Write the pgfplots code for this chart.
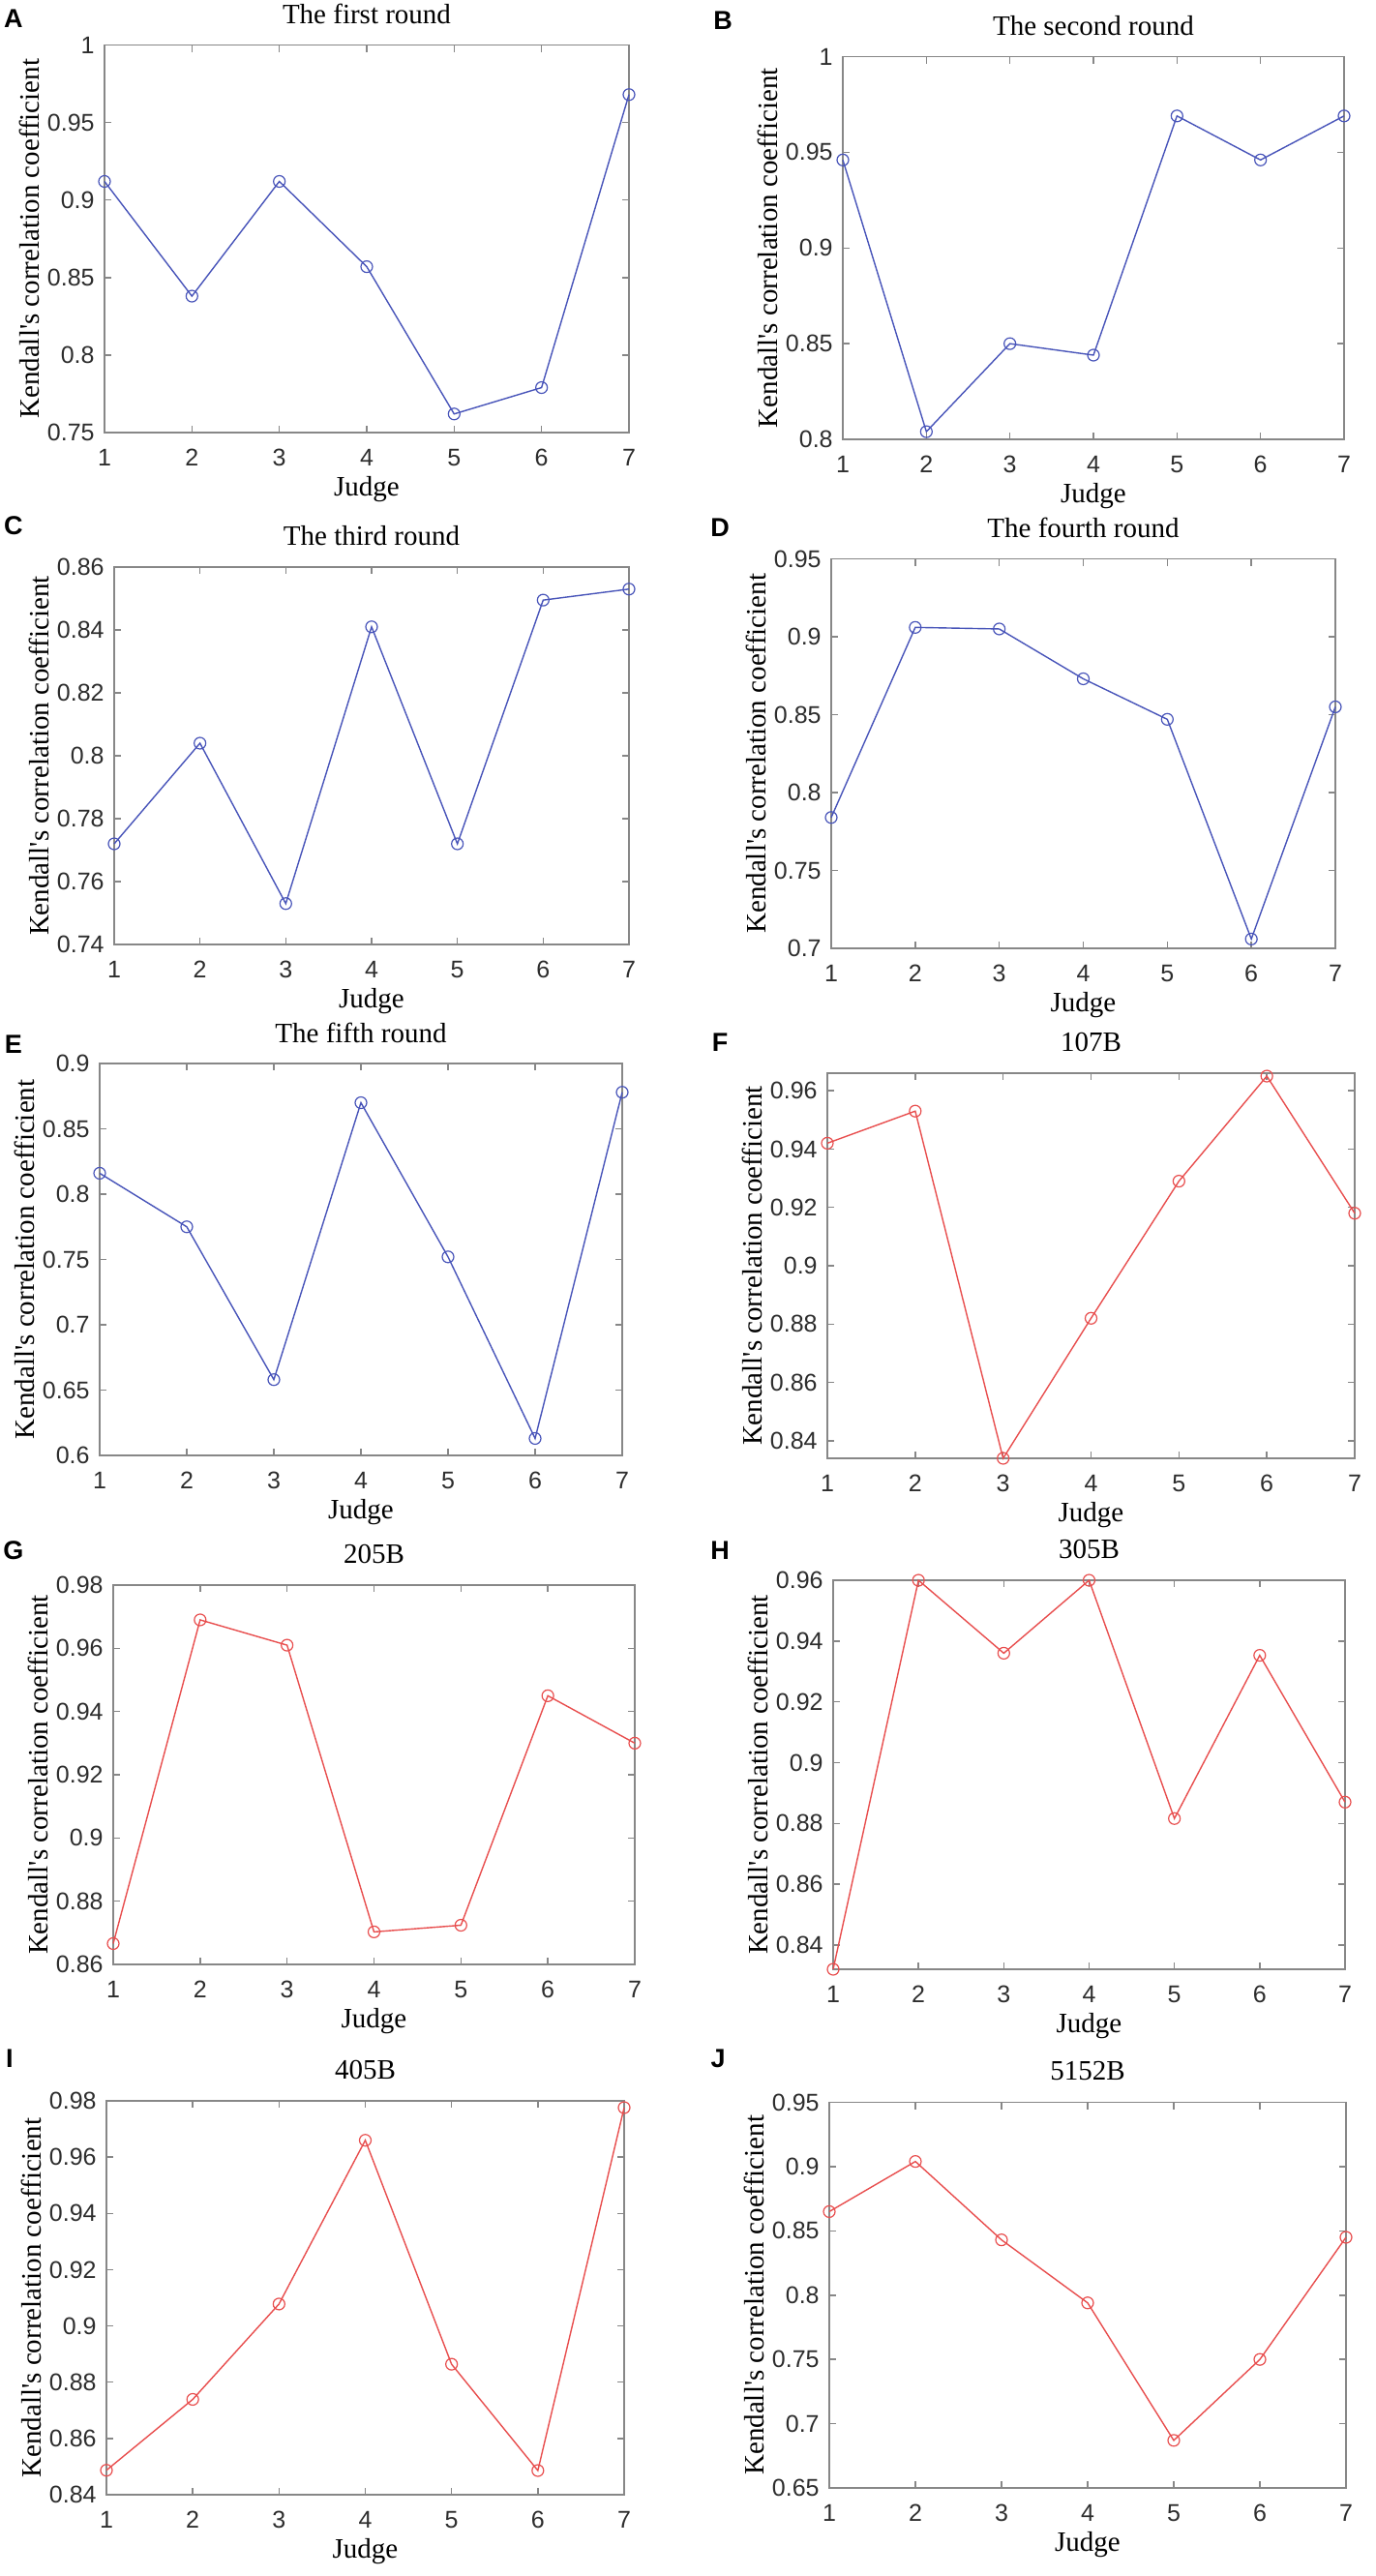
\documentclass[border=0pt]{standalone}
\usepackage{fontspec}
\setmainfont{Liberation Serif}
\newfontfamily\sansf{Liberation Sans}
\usepackage{pgfplots}
\pgfplotsset{compat=1.18}
\usetikzlibrary{calc}
\definecolor{mblue}{RGB}{72,84,185}
\definecolor{mred}{RGB}{232,78,78}
\definecolor{axgray}{RGB}{135,135,135}
\definecolor{tickgray}{RGB}{45,45,45}
\newcommand{\lblfont}{\fontsize{14.5}{16}\selectfont}
\newcommand{\tkfont}{\sansf\fontsize{12.5}{14}\selectfont}
\newcommand{\letfont}{\sansf\bfseries\fontsize{13.5}{15}\selectfont}
\pgfplotsset{
 kstyle/.style={
  scale only axis, anchor=north west, clip=false,
  xmin=1, xmax=7, xtick={1,2,3,4,5,6,7},
  tick pos=both, tick align=inside, major tick length=3.5pt,
  axis line style={axgray, line width=0.75pt},
  every tick/.style={axgray, line width=0.75pt},
  /pgf/number format/assume math mode=true,
  tick label style={font=\tkfont, text=tickgray},
  xticklabel style={anchor=center, yshift=-13pt},
  yticklabel style={anchor=east, inner sep=0pt, xshift=-5pt, /pgf/number format/fixed, /pgf/number format/precision=2},
  title style={font=\lblfont, at={(axis description cs:0.5,1)}, anchor=center, yshift=10pt},
  xlabel={Judge}, ylabel={Kendall\textquotesingle s correlation coefficient},
  xlabel style={font=\lblfont, at={(axis description cs:0.5,0)}, anchor=center, yshift=-29.5pt},
  ylabel style={font=\lblfont, at={($(axis description cs:0,0.5)+(-39pt,0)$)}, anchor=center},
 },
 bl/.style={color=mblue, line width=0.7pt, mark=o, mark size=3pt, mark options={line width=0.6pt}},
 rd/.style={color=mred, line width=0.7pt, mark=o, mark size=3pt, mark options={line width=0.6pt}},
}
\begin{document}
\begin{tikzpicture}
\path[use as bounding box] (0,0) rectangle (710.5pt,-1331pt);
% A
\begin{axis}[kstyle, at={(54pt,-23.25pt)}, width=271pt, height=200.25pt,
  ymin=0.75, ymax=1, ytick={0.75,0.8,0.85,0.9,0.95,1}, title={The first round}]
\addplot[bl] coordinates {(1,0.912) (2,0.838) (3,0.912) (4,0.857) (5,0.762) (6,0.779) (7,0.968)};
\end{axis}
% B
\begin{axis}[kstyle, at={(435.5pt,-29.25pt)}, width=259pt, height=197.75pt,
  ymin=0.8, ymax=1, ytick={0.8,0.85,0.9,0.95,1}, title={The second round}]
\addplot[bl] coordinates {(1,0.946) (2,0.804) (3,0.850) (4,0.844) (5,0.969) (6,0.946) (7,0.969)};
\end{axis}
% C
\begin{axis}[kstyle, at={(59pt,-293pt)}, width=266pt, height=195pt,
  ymin=0.74, ymax=0.86, ytick={0.74,0.76,0.78,0.8,0.82,0.84,0.86}, title={The third round}]
\addplot[bl] coordinates {(1,0.772) (2,0.804) (3,0.753) (4,0.841) (5,0.772) (6,0.8495) (7,0.853)};
\end{axis}
% D
\begin{axis}[kstyle, at={(429.5pt,-288.75pt)}, width=260.5pt, height=201.25pt,
  ymin=0.7, ymax=0.95, ytick={0.7,0.75,0.8,0.85,0.9,0.95}, title={The fourth round}]
\addplot[bl] coordinates {(1,0.784) (2,0.906) (3,0.905) (4,0.873) (5,0.847) (6,0.706) (7,0.855)};
\end{axis}
% E
\begin{axis}[kstyle, at={(51.5pt,-549.5pt)}, width=270pt, height=202.5pt,
  ymin=0.6, ymax=0.9, ytick={0.6,0.65,0.7,0.75,0.8,0.85,0.9}, title={The fifth round}]
\addplot[bl] coordinates {(1,0.816) (2,0.775) (3,0.658) (4,0.870) (5,0.752) (6,0.613) (7,0.878)};
\end{axis}
% F
\begin{axis}[kstyle, at={(427.5pt,-554.5pt)}, width=272.5pt, height=199pt,
  ymin=0.834, ymax=0.966, ytick={0.84,0.86,0.88,0.9,0.92,0.94,0.96}, title={107B}]
\addplot[rd] coordinates {(1,0.942) (2,0.953) (3,0.834) (4,0.882) (5,0.929) (6,0.965) (7,0.918)};
\end{axis}
% G
\begin{axis}[kstyle, at={(58.5pt,-819pt)}, width=269.5pt, height=196pt,
  ymin=0.86, ymax=0.98, ytick={0.86,0.88,0.9,0.92,0.94,0.96,0.98}, title={205B}]
\addplot[rd] coordinates {(1,0.8666) (2,0.969) (3,0.961) (4,0.8703) (5,0.8724) (6,0.945) (7,0.930)};
\end{axis}
% H
\begin{axis}[kstyle, at={(430.5pt,-816.5pt)}, width=264.5pt, height=201pt,
  ymin=0.832, ymax=0.96, ytick={0.84,0.86,0.88,0.9,0.92,0.94,0.96}, title={305B}]
\addplot[rd] coordinates {(1,0.832) (2,0.960) (3,0.936) (4,0.960) (5,0.8816) (6,0.9353) (7,0.887)};
\end{axis}
% I
\begin{axis}[kstyle, at={(55pt,-1085.5pt)}, width=267.5pt, height=203.5pt,
  ymin=0.84, ymax=0.98, ytick={0.84,0.86,0.88,0.9,0.92,0.94,0.96,0.98}, title={405B}]
\addplot[rd] coordinates {(1,0.8487) (2,0.8739) (3,0.9078) (4,0.966) (5,0.8864) (6,0.8486) (7,0.9776)};
\end{axis}
% J
\begin{axis}[kstyle, at={(428.5pt,-1086.25pt)}, width=267pt, height=199.25pt,
  ymin=0.65, ymax=0.95, ytick={0.65,0.7,0.75,0.8,0.85,0.9,0.95}, title={5152B}]
\addplot[rd] coordinates {(1,0.865) (2,0.904) (3,0.843) (4,0.794) (5,0.687) (6,0.750) (7,0.845)};
\end{axis}
% panel letters
\node[font=\letfont] at (7pt,-9.5pt) {A};
\node[font=\letfont] at (373.5pt,-10.5pt) {B};
\node[font=\letfont] at (7pt,-271.5pt) {C};
\node[font=\letfont] at (372pt,-272.5pt) {D};
\node[font=\letfont] at (7pt,-539.5pt) {E};
\node[font=\letfont] at (372pt,-538.5pt) {F};
\node[font=\letfont] at (7pt,-801pt) {G};
\node[font=\letfont] at (372pt,-801pt) {H};
\node[font=\letfont] at (5pt,-1063.5pt) {I};
\node[font=\letfont] at (371pt,-1063.5pt) {J};
\end{tikzpicture}
\end{document}
